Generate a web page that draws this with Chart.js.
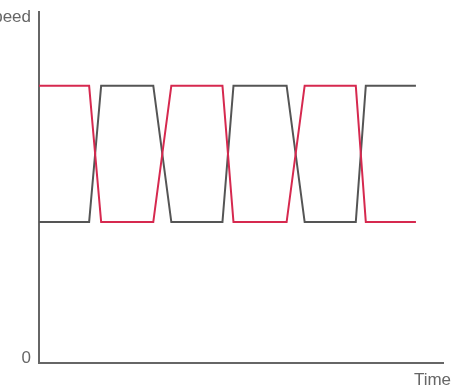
<!DOCTYPE html>
<html>
<head>
<meta charset="utf-8">
<script src="https://cdn.jsdelivr.net/npm/chart.js@4"></script>
<style>
  html, body { margin: 0; padding: 0; background: #fff; }
  #wrap { width: 473px; height: 391px; position: relative; }
</style>
</head>
<body>
<div id="wrap"><canvas id="speedChart"></canvas></div>
<script>
// data
const times = [0, 5, 6.2, 11.4, 13.2, 18.3, 19.4, 24.7, 26.5, 31.6, 32.6, 37.6];
const redSpeed = [80, 80, 40, 40, 80, 80, 40, 40, 80, 80, 40, 40];
const greySpeed = [40, 40, 80, 80, 40, 40, 80, 80, 40, 40, 80, 80];

const yTickValues = [0, 100];
const yTickLabels = ["0", "Speed"];
const xTickLabel = "Time";
const xMax = 40.3;

function toPoints(values) {
    return values.map((v, i) => ({ x: times[i], y: v }));
}

const axisColor = "#666";
const fontSpec = { family: "'Liberation Sans', Arial, sans-serif", size: 17 };

new Chart(document.getElementById("speedChart").getContext("2d"), {
    type: "line",
    data: {
        datasets: [
            {
                label: "red",
                data: toPoints(redSpeed),
                borderColor: "#d6294f",
                borderWidth: 2,
                pointRadius: 0,
                tension: 0,
                fill: false
            },
            {
                label: "grey",
                data: toPoints(greySpeed),
                borderColor: "#555",
                borderWidth: 2,
                pointRadius: 0,
                tension: 0,
                fill: false
            }
        ]
    },
    options: {
        responsive: true,
        maintainAspectRatio: false,
        animation: false,
        layout: { padding: { top: 12, right: 30, bottom: 0, left: 0 } },
        plugins: {
            legend: { display: false },
            tooltip: { enabled: false }
        },
        scales: {
            x: {
                type: "linear",
                min: 0,
                max: xMax,
                grid: { display: false, drawTicks: false },
                border: { display: true, color: axisColor, width: 2 },
                afterBuildTicks: (scale) => { scale.ticks = [{ value: xMax }]; },
                afterFit: (scale) => {
                    scale.height = 28;
                    scale.paddingLeft = 0;
                    scale.paddingRight = 0;
                },
                ticks: {
                    color: axisColor,
                    font: fontSpec,
                    padding: 7,
                    labelOffset: -10.5,
                    maxRotation: 0,
                    autoSkip: false,
                    callback: () => xTickLabel
                }
            },
            y: {
                type: "linear",
                min: -1.32,
                max: 101.6,
                grid: { display: false, drawTicks: false },
                border: { display: true, color: axisColor, width: 2 },
                afterBuildTicks: (scale) => {
                    scale.ticks = yTickValues.map(v => ({ value: v }));
                },
                afterFit: (scale) => {
                    scale.width = 39;
                    scale.paddingTop = 0;
                    scale.paddingBottom = 0;
                },
                ticks: {
                    color: axisColor,
                    font: fontSpec,
                    padding: 8,
                    autoSkip: false,
                    callback: (value) => yTickLabels[yTickValues.indexOf(value)]
                }
            }
        }
    }
});
</script>
</body>
</html>
